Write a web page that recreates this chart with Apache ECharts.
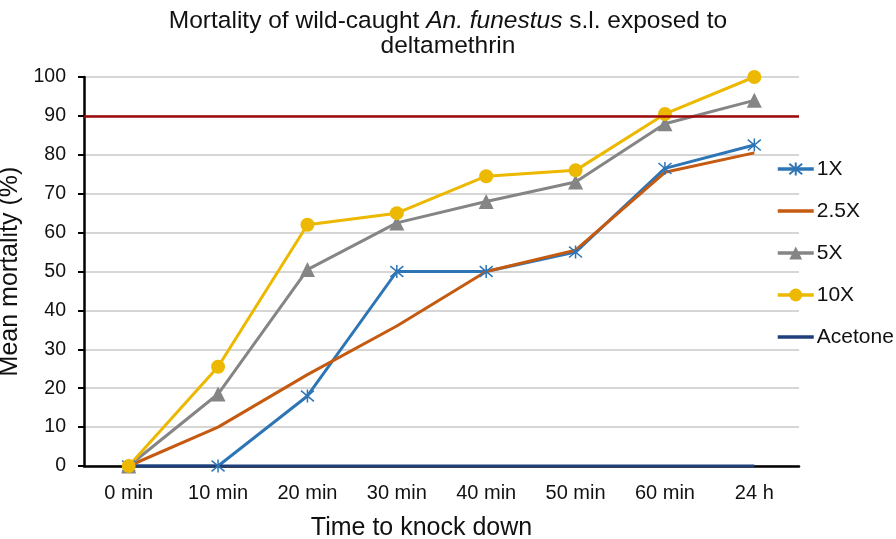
<!DOCTYPE html>
<html>
<head>
<meta charset="utf-8">
<script src="https://cdn.jsdelivr.net/npm/echarts@6/dist/echarts.min.js"></script>
<style>html,body{margin:0;padding:0;background:#fff;}#c{width:896px;height:539px;}</style>
</head>
<body>
<div id="c"></div>
<script>
var categories = ['0 min', '10 min', '20 min', '30 min', '40 min', '50 min', '60 min', '24 h'];
var yTicks = [0, 10, 20, 30, 40, 50, 60, 70, 80, 90, 100];
var s1X = [0, 0, 18, 50, 50, 55, 76.5, 82.5];
var s25X = [0, 10, 23.5, 36, 50, 55.5, 75.5, 80.5];
var s5X = [0, 18.5, 50.5, 62.5, 68, 73, 88, 94];
var s10X = [0, 25.5, 62, 65, 74.5, 76, 90.5, 100];
var sAcetone = [0, 0, 0, 0, 0, 0, 0, 0];
var threshold = 90;

var FONT = '"Liberation Sans", Arial, sans-serif';
var chart = echarts.init(document.getElementById('c'), null, {renderer: 'canvas'});
var asterisk = 'path://M0,0L10,10M10,0L0,10M5,-1L5,11M5,-1Z';
var noMark = 'path://M0,0L10,10';
function lineSeries(name, data, color, symbol, size, extra) {
  var s = {
    name: name, type: 'line', data: data,
    symbol: symbol, symbolSize: size, showSymbol: symbol !== noMark,
    lineStyle: {color: color, width: 3},
    itemStyle: {color: color, borderColor: color, borderWidth: symbol === asterisk ? 1.5 : 0},
    emphasis: {disabled: true}, animation: false
  };
  for (var k in extra) s[k] = extra[k];
  return s;
}
chart.setOption({
  backgroundColor: '#fff',
  animation: false,
  title: [{
    text: '{n|Mortality of wild-caught }{i|An. funestus}{n| s.l. exposed to}',
    left: 'center', top: 4,
    textStyle: {fontWeight: 'normal', rich: {
      n: {fontFamily: FONT, fontSize: 24.5, color: '#111', fontWeight: 'normal'},
      i: {fontFamily: FONT, fontSize: 24.5, color: '#111', fontStyle: 'italic', fontWeight: 'normal'}
    }}
  }, {
    text: 'deltamethrin', left: 'center', top: 29,
    textStyle: {fontFamily: FONT, fontSize: 24.5, fontWeight: 'normal', color: '#111'}
  }],
  legend: {
    orient: 'vertical', left: 771, top: 152, itemGap: 18,
    itemWidth: 36, itemHeight: 16,
    lineStyle: {width: 3.5},
    textStyle: {fontFamily: FONT, fontSize: 21, color: '#111', lineHeight: 24, padding: [0, 0, 0, -2]},
    data: ['1X', '2.5X', '5X', '10X', 'Acetone']
  },
  grid: {left: 84, right: 97, top: 77, bottom: 73, containLabel: false, outerBoundsMode: 'none'},
  xAxis: {
    type: 'category', data: categories, boundaryGap: true,
    axisLine: {lineStyle: {color: '#000', width: 2.5}},
    axisTick: {show: false},
    axisLabel: {fontFamily: FONT, fontSize: 20, color: '#111', margin: 17, interval: 0},
    name: 'Time to knock down', nameLocation: 'middle', nameGap: 50,
    nameTextStyle: {fontFamily: FONT, fontSize: 25, color: '#111', padding: [0, 40, 0, 0]}
  },
  yAxis: {
    type: 'value', min: yTicks[0], max: yTicks[yTicks.length - 1], interval: 10,
    axisLine: {show: true, lineStyle: {color: '#000', width: 2.5}},
    axisTick: {show: true, length: 6, lineStyle: {color: '#000', width: 2}},
    axisLabel: {fontFamily: FONT, fontSize: 19.5, color: '#111', margin: 18},
    splitLine: {lineStyle: {color: '#c9c9c9', width: 1.5}},
    name: 'Mean mortality (%)', nameLocation: 'middle', nameGap: 55,
    nameTextStyle: {fontFamily: FONT, fontSize: 25, color: '#111'}
  },
  series: [
    lineSeries('1X', s1X, '#2E75B6', asterisk, 13, {
      markLine: {
        silent: true, symbol: 'none', label: {show: false},
        lineStyle: {color: '#9B0A0A', width: 2.5, type: 'solid'},
        data: [{yAxis: threshold}], animation: false
      }
    }),
    lineSeries('2.5X', s25X, '#C55A11', noMark, 0, {}),
    lineSeries('5X', s5X, '#858585', 'triangle', 15, {}),
    lineSeries('10X', s10X, '#EDB800', 'circle', 14, {}),
    lineSeries('Acetone', sAcetone, '#1F3F7A', noMark, 0, {})
  ]
});
</script>
</body>
</html>
